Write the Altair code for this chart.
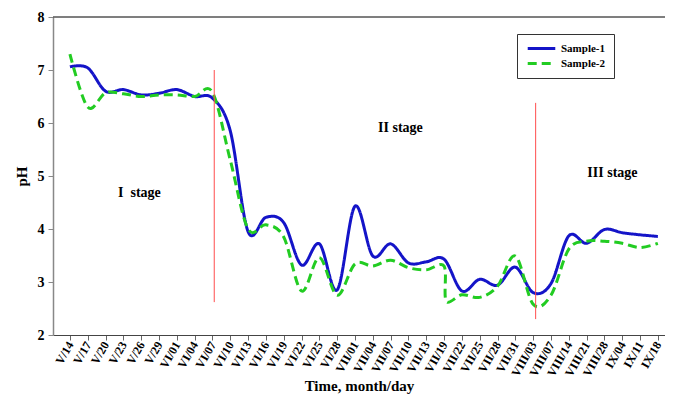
import altair as alt
import pandas as pd

# ---- data ----
labels = ["V/14", "V/17", "V/20", "V/23", "V/26", "V/29", "VI/01", "VI/04", "VI/07",
          "VI/10", "VI/13", "VI/16", "VI/19", "VI/22", "VI/25", "VI/28", "VII/01",
          "VII/04", "VII/07", "VII/10", "VII/13", "VII/19", "VII/22", "VII/25",
          "VII/28", "VII/31", "VIII/03", "VIII/07", "VIII/14", "VIII/21", "VIII/28",
          "IX/04", "IX/11", "IX/18"]

s1_x = list(range(34))
s1_y = [7.06, 7.04, 6.6, 6.63, 6.53, 6.56, 6.63, 6.5, 6.47, 5.85,
        3.95, 4.22, 4.12, 3.32, 3.72, 2.85, 4.43, 3.49, 3.72, 3.36,
        3.38, 3.43, 2.83, 3.05, 2.94, 3.28, 2.8, 2.97, 3.87, 3.73,
        3.99, 3.93, 3.89, 3.86]

s2_x = [0, 1, 2, 3, 4, 5, 6, 7, 8, 9, 10, 11, 12, 13, 14, 15, 16, 17, 18, 19,
        20, 21, 21.12, 22, 23, 24, 25, 26, 27, 28, 29, 30, 31, 32, 33]
s2_y = [7.3, 6.3, 6.57, 6.55, 6.5, 6.53, 6.53, 6.5, 6.58, 5.3,
        4.0, 4.08, 3.85, 2.83, 3.46, 2.75, 3.34, 3.3, 3.41, 3.27,
        3.23, 3.3, 2.64, 2.76, 2.71, 2.92, 3.49, 2.58, 2.75, 3.62,
        3.77, 3.77, 3.73, 3.65, 3.73]

series_names = ["Sample-1", "Sample-2"]
series_colors = ["#1414c8", "#22cc22"]

divider_x = [8.1, 26.14]
divider_top = [7.0, 6.38]
divider_bottom = [2.62, 2.3]

stage_text = ["I\u00a0\u00a0stage", "II stage", "III stage"]
stage_x = [3.9, 18.55, 30.45]
stage_y = [4.68, 5.9, 5.06]

# ---- tables ----
df = pd.DataFrame({
    "idx": s1_x + s2_x,
    "pH": s1_y + s2_y,
    "series": [series_names[0]] * len(s1_x) + [series_names[1]] * len(s2_x),
})
df_rules = pd.DataFrame({"idx": divider_x, "pH": divider_top, "pH2": divider_bottom})
df_text = pd.DataFrame({"idx": stage_x, "pH": stage_y, "t": stage_text})

SERIF = "Liberation Serif"
label_arr = "[" + ",".join("'" + l + "'" for l in labels) + "]"

xscale = alt.Scale(domain=[-0.95, 33.4], nice=False, zero=False)
yscale = alt.Scale(domain=[2, 8], nice=False, zero=False)

x_axis = alt.Axis(
    values=list(range(34)), labelExpr=label_arr + "[datum.value]",
    labelAngle=300, labelAlign="right", labelBaseline="middle",
    labelFont=SERIF, labelFontWeight="bold", labelFontSize=12, labelColor="#000",
    labelPadding=2, labelOverlap=False, labelFlush=False, labelBound=False,
    title="Time, month/day", titleFont=SERIF, titleFontWeight="bold", titleFontSize=15,
    titleColor="#000", titleBaseline="alphabetic", titleY=55,
    domainColor="#444", tickColor="#666", tickSize=5, grid=False,
)
y_axis = alt.Axis(
    values=[2, 3, 4, 5, 6, 7, 8], format="d",
    labelFont=SERIF, labelFontWeight="bold", labelFontSize=14, labelColor="#000",
    labelPadding=4,
    title="pH", titleFont=SERIF, titleFontWeight="bold", titleFontSize=15,
    titleColor="#000", titlePadding=8,
    domainColor="#888", domainWidth=1.5, tickColor="#888", tickSize=5, grid=False,
)

X = alt.X("idx:Q", scale=xscale, axis=x_axis)
Y = alt.Y("pH:Q", scale=yscale, axis=y_axis)

lines = alt.Chart(df).mark_line(interpolate="cardinal", strokeWidth=3).encode(
    x=X, y=Y,
    color=alt.Color("series:N", scale=alt.Scale(domain=series_names, range=series_colors),
                    legend=alt.Legend(title=None)),
    strokeDash=alt.StrokeDash("series:N",
                              scale=alt.Scale(domain=series_names, range=[[1, 0], [9, 5]]),
                              legend=alt.Legend(title=None)),
    detail="series:N",
)

rules = alt.Chart(df_rules).mark_rule(color="#ff4d4d", strokeWidth=1).encode(
    x=X, y=Y, y2="pH2:Q"
)

texts = alt.Chart(df_text).mark_text(
    font=SERIF, fontWeight="bold", fontSize=14, color="#000"
).encode(x=X, y=Y, text="t:N")

top_line = alt.Chart(df_rules).mark_rule(color="#555", strokeWidth=1).encode(
    x=alt.value(0), x2=alt.value(612), y=alt.value(0)
)

chart = alt.layer(lines, rules, texts, top_line).properties(
    width=612, height=318,
    autosize=alt.AutoSizeParams(type="none"),
    padding={"left": 45, "top": 9, "right": 0, "bottom": 60},
).configure_view(stroke=None).configure_legend(
    orient="none", legendX=464, legendY=17,
    strokeColor="#333", fillColor="#fff", padding=9, rowPadding=3,
    labelFont=SERIF, labelFontWeight="bold", labelFontSize=11, labelColor="#000",
    symbolType="stroke", symbolSize=760, symbolStrokeWidth=3, clipHeight=11,
    cornerRadius=0,
)

chart.save("out.html", embed_options={"renderer": "svg", "actions": False})
